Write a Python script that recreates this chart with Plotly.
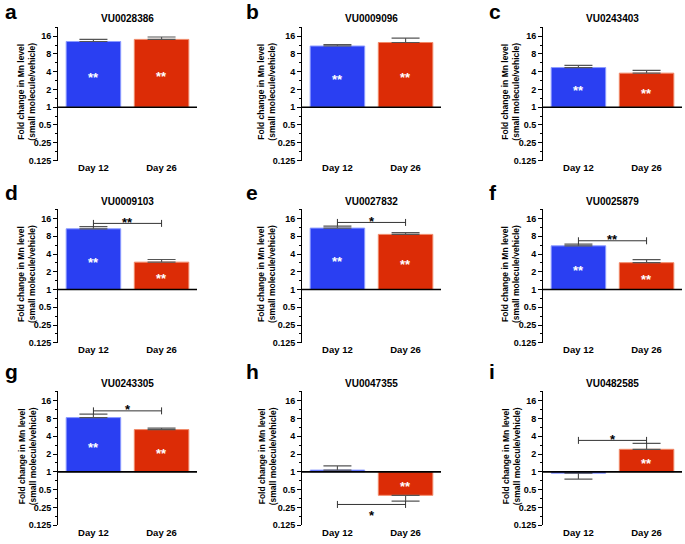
import math
import plotly.graph_objects as go

W, H = 685, 544

# ---------------- data ----------------
panel_letters = ["a", "b", "c", "d", "e", "f", "g", "h", "i"]
compounds = ["VU0028386", "VU0009096", "VU0243403",
             "VU0009103", "VU0027832", "VU0025879",
             "VU0243305", "VU0047355", "VU0482585"]
days = ["Day 12", "Day 26"]
day12_values = [13.0, 10.9, 4.7, 10.7, 11.0, 5.5, 8.3, 1.07, 0.95]
day26_values = [14.1, 12.5, 3.78, 2.91, 8.6, 2.85, 5.2, 0.40, 2.41]
day12_err_end = [14.1, 11.5, 5.1, 11.6, 11.9, 5.9, 9.5, 1.26, 0.75]
day26_err_end = [15.5, 14.8, 4.2, 3.23, 9.2, 3.2, 5.5, 0.32, 3.04]
day12_sig = ["**", "**", "**", "**", "**", "**", "**", "", ""]
day26_sig = ["**", "**", "**", "**", "**", "**", "**", "**", "**"]
compare_sig = ["", "", "", "**", "*", "**", "*", "*", "*"]
compare_level = [None, None, None, 13.2, 13.7, 6.7, 10.8, 0.28, 3.41]
tick_values = [0.125, 0.25, 0.5, 1, 2, 4, 8, 16]
tick_labels = ["0.125", "0.25", "0.5", "1", "2", "4", "8", "16"]
BASELINE = 1.0

# ---------------- style ----------------
BLUE = "#2a3ff2"
RED = "#dc2c06"
FONT = "Liberation Sans"
col_px = [(58, 197), (302, 441), (543, 682)]
row_px = [(27, 162), (211, 346), (395, 530)]
ytitle_px = [27, 267, 511]
letter_px = [3, 244, 487]
letter_base = [20, 203, 384]
XR = [-0.52, 1.52]
YR = [math.log10(0.125), 4.53 * math.log10(2)]


def px_x(p):
    return p / W


def px_y(p):
    return 1 - p / H


fig = go.Figure()
layout = dict(
    width=W, height=H,
    margin=dict(l=0, r=0, t=0, b=0),
    paper_bgcolor="white", plot_bgcolor="white",
    showlegend=False, bargap=0.2,
    font=dict(family=FONT, color="black"),
)
annotations = []

minor_vals = [0.125 * 2 ** (k + 0.5) for k in range(8)]

for i in range(9):
    r, c = divmod(i, 3)
    n = "" if i == 0 else str(i + 1)
    xa, ya = "x" + n, "y" + n
    x0, x1 = col_px[c]
    y0, y1 = row_px[r]
    layout["xaxis" + n] = dict(
        domain=[px_x(x0), px_x(x1)], anchor=ya, range=XR,
        showline=False, showgrid=False, zeroline=False, ticks="",
        tickvals=[0, 1], ticktext=days,
        tickfont=dict(size=9.5, weight="bold", family=FONT),
        fixedrange=True,
    )
    layout["yaxis" + n] = dict(
        domain=[px_y(y1), px_y(y0)], anchor=xa, type="log", range=YR,
        showline=True, linecolor="black", linewidth=1,
        showgrid=False, zeroline=False,
        ticks="outside", ticklen=4, tickwidth=1, tickcolor="black",
        tickvals=tick_values, ticktext=tick_labels,
        tickfont=dict(size=9, weight="bold", family=FONT),
        minor=dict(tickvals=minor_vals, ticks="outside", ticklen=2,
                   tickwidth=1, tickcolor="black"),
        fixedrange=True,
    )

    vals = [day12_values[i], day26_values[i]]
    ends = [day12_err_end[i], day26_err_end[i]]
    plus = [max(e - v, 0) for v, e in zip(vals, ends)]
    minus = [max(v - e, 0) for v, e in zip(vals, ends)]
    fig.add_trace(go.Bar(
        x=[0, 1], y=[v - BASELINE for v in vals], base=BASELINE,
        xaxis=xa, yaxis=ya,
        marker=dict(color=[BLUE, RED],
                    line=dict(color=["#8c9bff", "#f08a6a"], width=1)),
        error_y=dict(type="data", symmetric=False, array=plus,
                     arrayminus=minus, color="#555555", thickness=1.2,
                     width=14),
        width=0.8,
    ))
    # baseline at fold change = 1
    fig.add_trace(go.Scatter(
        x=XR, y=[BASELINE, BASELINE], mode="lines", xaxis=xa, yaxis=ya,
        line=dict(color="black", width=1.6), cliponaxis=False,
        hoverinfo="skip",
    ))
    # significance bracket
    if compare_level[i] is not None:
        lvl = compare_level[i]
        fig.add_trace(go.Scatter(
            x=[0, 1], y=[lvl, lvl], mode="lines+markers", xaxis=xa, yaxis=ya,
            line=dict(color="#333333", width=1),
            marker=dict(symbol="line-ns", size=5,
                        line=dict(color="#333333", width=1)),
            cliponaxis=False, hoverinfo="skip",
        ))
        below = lvl < BASELINE
        annotations.append(dict(
            x=0.5, y=math.log10(lvl), xref=xa, yref=ya, text=compare_sig[i],
            showarrow=False, yanchor="middle",
            yshift=-11 if below else 1,
            font=dict(size=13, color="black", weight="bold", family=FONT),
        ))
    # stars inside bars
    for k, (v, s) in enumerate(zip(vals, [day12_sig[i], day26_sig[i]])):
        if s:
            annotations.append(dict(
                x=k, y=0.5 * math.log10(v), xref=xa, yref=ya, text=s,
                showarrow=False, yanchor="middle", yshift=-3,
                font=dict(size=13, color="white", weight="bold", family=FONT),
            ))
    # panel title
    annotations.append(dict(
        x=px_x((x0 + x1) / 2), y=px_y(y0 - 8), xref="paper", yref="paper",
        text=compounds[i], showarrow=False, xanchor="center",
        yanchor="middle",
        font=dict(size=10, weight="bold", family=FONT),
    ))
    # y-axis title
    annotations.append(dict(
        x=px_x(ytitle_px[c]), y=px_y((y0 + y1) / 2 - 2), xref="paper",
        yref="paper", text="Fold change in Mn level<br>(small molecule/vehicle)",
        showarrow=False, textangle=-90, xanchor="center", yanchor="middle",
        font=dict(size=8.5, weight="bold", family=FONT),
    ))
    # panel letter
    annotations.append(dict(
        x=px_x(letter_px[c]), y=px_y(letter_base[r] + 5), xref="paper",
        yref="paper", text=panel_letters[i], showarrow=False,
        xanchor="left", yanchor="bottom",
        font=dict(size=21, weight="bold", family=FONT),
    ))

layout["annotations"] = annotations
fig.update_layout(**layout)
fig.write_html(
    "out.html",
    config={"displayModeBar": False},
    post_script="document.body.style.margin='0';"
                "document.documentElement.style.overflow='hidden';",
)
